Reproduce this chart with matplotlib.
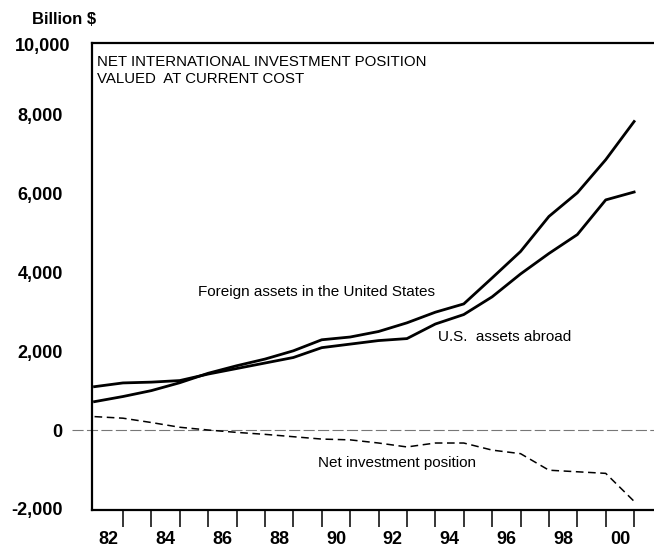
import numpy as np
import matplotlib
matplotlib.use("Agg")
import matplotlib.pyplot as plt

# year-end values, billions of dollars
years = np.arange(1981, 2001)
us_assets_abroad = [1100, 1195, 1215, 1255, 1420, 1560, 1700, 1840, 2090, 2180,
                    2270, 2320, 2690, 2930, 3380, 3960, 4480, 4960, 5840, 6040]
foreign_assets_us = [720, 850, 1000, 1200, 1440, 1630, 1800, 2010, 2290, 2360,
                     2500, 2720, 2990, 3200, 3860, 4530, 5420, 6020, 6860, 7830]
net_position = [340, 300, 190, 70, 0, -60, -110, -170, -230, -250,
                -330, -430, -330, -330, -510, -600, -1020, -1060, -1100, -1810]

label_years = list(range(1982, 2001, 2))
label_text = [f"{y % 100:02d}" for y in label_years]
yticks = [-2000, 0, 2000, 4000, 6000, 8000]

plt.rcParams['font.family'] = ['Liberation Sans', 'DejaVu Sans']

fig = plt.figure(figsize=(6.54, 5.48), dpi=100)
ax = fig.add_axes([92/654, 38/548, 562/654, 467/548])

# reference line at zero, running a bit past the left axis
ax.plot([1980.2, 2001], [0, 0], color='#777777', lw=0.8,
        linestyle=(0, (10, 3)), clip_on=False, zorder=1)

ax.plot(years, foreign_assets_us, color='black', lw=2.0, zorder=3)
ax.plot(years, us_assets_abroad, color='black', lw=2.0, zorder=3)
ax.plot(years, net_position, color='black', lw=1.1, dashes=(5, 3), zorder=3)

ax.set_xlim(1980.91, 2000.70)
ax.set_ylim(-2030, 9822)

# spines: no right side
ax.spines['right'].set_visible(False)
for s in ['left', 'top', 'bottom']:
    ax.spines[s].set_linewidth(1.6)

# x: year-boundary ticks, labels centred inside each year
ax.set_xticks([y - 0.5 for y in label_years])
ax.set_xticklabels(label_text, fontsize=13, fontweight='bold')
ax.set_xticks(years[1:], minor=True)
ax.tick_params(axis='x', which='major', length=0, pad=15)
ax.tick_params(axis='x', which='minor', length=12, width=1.1, direction='out')

ax.set_yticks(yticks)
ax.set_yticklabels([f"{v:,}" for v in yticks], fontsize=13, fontweight='bold')
ax.tick_params(axis='y', length=0, pad=21)
ax.text(-0.039, 9730, "10,000", transform=ax.get_yaxis_transform(),
        ha='right', va='center', fontsize=13, fontweight='bold')

fig.text(32/654, 1 - 19/548, "Billion $", ha='left', va='center',
         fontsize=12, fontweight='bold')

ax.text(0.009, 0.959, "NET INTERNATIONAL INVESTMENT POSITION",
        transform=ax.transAxes, ha='left', va='center', fontsize=10.8)
ax.text(0.009, 0.923, "VALUED  AT CURRENT COST",
        transform=ax.transAxes, ha='left', va='center', fontsize=10.8)

ax.text(1984.64, 3503, "Foreign assets in the United States",
        ha='left', va='center', fontsize=11)
ax.text(1993.09, 2360, "U.S.  assets abroad", ha='left', va='center', fontsize=11)
ax.text(1988.87, -838, "Net investment position", ha='left', va='center', fontsize=11)

fig.savefig("out.png", dpi=100)
